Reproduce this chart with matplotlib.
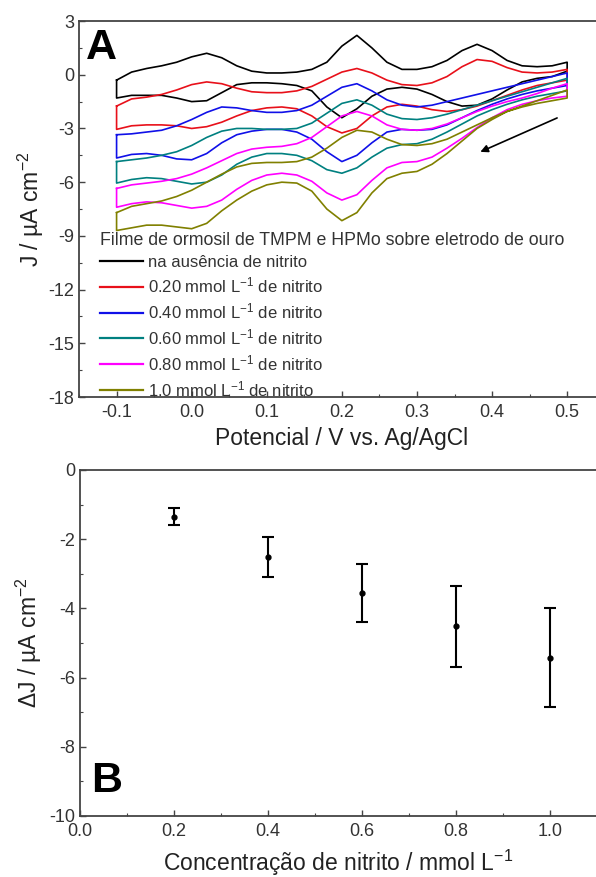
import matplotlib
matplotlib.use("Agg")  # no display available
import matplotlib.pyplot as plt
from matplotlib.lines import Line2D
from matplotlib.ticker import MultipleLocator

# ---------------------------------------------------------------------------
# Panel A: cyclic voltammograms
# ---------------------------------------------------------------------------
potential = [-0.10, -0.08, -0.06, -0.04, -0.02, 0.00, 0.02, 0.04, 0.06, 0.08,
             0.10, 0.12, 0.14, 0.16, 0.18, 0.20, 0.22, 0.24, 0.26, 0.28,
             0.30, 0.32, 0.34, 0.36, 0.38, 0.40, 0.42, 0.44, 0.46, 0.48, 0.50]

# anodic (forward) and cathodic (reverse) branches, same potential order
j_blank_fwd = [-0.3, 0.15, 0.35, 0.5, 0.7, 1.0, 1.2, 0.95, 0.5, 0.2,
               0.1, 0.1, 0.15, 0.3, 0.7, 1.6, 2.2, 1.5, 0.7, 0.3,
               0.3, 0.45, 0.8, 1.35, 1.7, 1.35, 0.8, 0.5, 0.45, 0.5, 0.7]
j_blank_rev = [-1.3, -1.15, -1.15, -1.15, -1.3, -1.5, -1.45, -1.0, -0.55, -0.45,
               -0.45, -0.5, -0.6, -0.9, -1.8, -2.4, -1.9, -1.2, -0.8, -0.7,
               -0.8, -1.1, -1.5, -1.75, -1.7, -1.35, -0.85, -0.4, -0.2, -0.1, 0.2]

j_020_fwd = [-1.75, -1.35, -1.25, -1.1, -0.85, -0.55, -0.4, -0.5, -0.75, -0.95,
             -1.0, -1.0, -0.9, -0.65, -0.25, 0.15, 0.35, 0.1, -0.3, -0.55,
             -0.6, -0.45, -0.1, 0.45, 0.85, 0.75, 0.4, 0.15, 0.1, 0.15, 0.3]
j_020_rev = [-3.05, -2.85, -2.8, -2.8, -2.85, -3.0, -2.9, -2.65, -2.3, -2.0,
             -1.85, -1.8, -1.9, -2.3, -2.9, -3.25, -3.0, -2.3, -1.8, -1.65,
             -1.75, -1.95, -2.05, -1.95, -1.75, -1.45, -1.15, -0.85, -0.6, -0.45, -0.3]

j_040_fwd = [-3.35, -3.3, -3.2, -3.1, -2.85, -2.5, -2.1, -1.8, -1.85, -2.0,
             -2.1, -2.1, -2.0, -1.7, -1.2, -0.7, -0.5, -0.9, -1.4, -1.7,
             -1.8, -1.7, -1.5, -1.3, -1.1, -0.9, -0.7, -0.5, -0.3, -0.1, 0.1]
j_040_rev = [-4.65, -4.45, -4.4, -4.5, -4.7, -4.75, -4.4, -3.8, -3.35, -3.15,
             -3.05, -3.05, -3.2, -3.6, -4.3, -4.85, -4.5, -3.8, -3.2, -3.05,
             -3.1, -3.05, -2.8, -2.4, -2.0, -1.65, -1.35, -1.1, -0.9, -0.75, -0.6]

j_060_fwd = [-4.85, -4.75, -4.65, -4.5, -4.3, -3.95, -3.5, -3.15, -3.0, -3.0,
             -3.05, -3.05, -3.0, -2.7, -2.15, -1.6, -1.4, -1.7, -2.2, -2.45,
             -2.5, -2.4, -2.2, -1.95, -1.7, -1.45, -1.2, -0.95, -0.7, -0.45, -0.2]
j_060_rev = [-6.05, -5.85, -5.75, -5.8, -5.95, -6.1, -6.0, -5.6, -5.0, -4.6,
             -4.4, -4.4, -4.5, -4.8, -5.3, -5.5, -5.2, -4.6, -4.1, -3.9,
             -3.85, -3.6, -3.2, -2.75, -2.3, -1.95, -1.65, -1.4, -1.2, -1.05, -0.9]

j_080_fwd = [-6.35, -6.15, -6.05, -5.95, -5.8, -5.55, -5.2, -4.8, -4.4, -4.15,
             -4.05, -4.0, -3.85, -3.5, -2.9, -2.3, -2.05, -2.3, -2.8, -3.05,
             -3.1, -3.0, -2.75, -2.4, -2.05, -1.75, -1.5, -1.3, -1.05, -0.75, -0.5]
j_080_rev = [-7.4, -7.2, -7.1, -7.15, -7.3, -7.45, -7.35, -7.0, -6.4, -5.9,
             -5.6, -5.5, -5.6, -5.95, -6.6, -7.0, -6.7, -5.9, -5.2, -4.9,
             -4.85, -4.6, -4.1, -3.55, -2.95, -2.4, -1.95, -1.65, -1.45, -1.3, -1.2]

j_100_fwd = [-7.7, -7.35, -7.2, -7.05, -6.8, -6.45, -6.0, -5.55, -5.15, -4.95,
             -4.9, -4.9, -4.85, -4.6, -4.1, -3.5, -3.1, -3.2, -3.6, -3.9,
             -3.95, -3.85, -3.6, -3.2, -2.8, -2.4, -2.05, -1.75, -1.45, -1.15, -0.85]
j_100_rev = [-8.7, -8.55, -8.4, -8.4, -8.5, -8.6, -8.3, -7.6, -7.0, -6.5,
             -6.15, -6.0, -6.05, -6.5, -7.5, -8.15, -7.7, -6.6, -5.8, -5.5,
             -5.4, -5.0, -4.4, -3.7, -3.0, -2.5, -2.05, -1.8, -1.6, -1.45, -1.3]

cv_fwd = [j_blank_fwd, j_020_fwd, j_040_fwd, j_060_fwd, j_080_fwd, j_100_fwd]
cv_rev = [j_blank_rev, j_020_rev, j_040_rev, j_060_rev, j_080_rev, j_100_rev]
cv_labels = ["na ausência de nitrito",
             "0.20 mmol L$^{-1}$ de nitrito",
             "0.40 mmol L$^{-1}$ de nitrito",
             "0.60 mmol L$^{-1}$ de nitrito",
             "0.80 mmol L$^{-1}$ de nitrito",
             "1.0 mmol L$^{-1}$ de nitrito"]
cv_colors = ["#000000", "#e8101a", "#1010e8", "#008080", "#ff00ff", "#808000"]
legend_title = "Filme de ormosil de TMPM e HPMo sobre eletrodo de ouro"

# ---------------------------------------------------------------------------
# Panel B: current change vs nitrite concentration
# ---------------------------------------------------------------------------
conc = [0.2, 0.4, 0.6, 0.8, 1.0]
delta_j = [-1.35, -2.52, -3.56, -4.52, -5.42]
delta_j_err = [0.24, 0.57, 0.84, 1.17, 1.43]

# ---------------------------------------------------------------------------
plt.rcParams["font.family"] = ["Liberation Sans", "DejaVu Sans"]
plt.rcParams["mathtext.fontset"] = "custom"
plt.rcParams["mathtext.rm"] = "Liberation Sans"
plt.rcParams["mathtext.it"] = "Liberation Sans:italic"
plt.rcParams["mathtext.bf"] = "Liberation Sans:bold"
plt.rcParams["axes.unicode_minus"] = False  # plain hyphen like the original

TICK_FS = 13
LABEL_FS = 16.5
SPINE_C = "#444444"

fig = plt.figure(figsize=(5.96, 8.77), dpi=100)
# both panels run a little past the right edge, as in the cropped original
ax_a = fig.add_axes([0.1326, 0.5473, 0.882, 0.4287])
ax_b = fig.add_axes([0.1342, 0.0696, 0.8674, 0.3945])


def style_axes(ax):
    for sp in ax.spines.values():
        sp.set_color(SPINE_C)
        sp.set_linewidth(1.3)
    ax.tick_params(which="both", direction="in", colors=SPINE_C,
                   labelcolor="#333333", labelsize=TICK_FS, top=False, right=False)
    ax.tick_params(which="major", length=4, width=1.0)
    ax.tick_params(which="minor", length=2, width=0.8)
    ax.tick_params(axis="x", pad=5)


# --- panel A ---
for fwd, rev, col in zip(cv_fwd, cv_rev, cv_colors):
    xs = potential + potential[::-1] + potential[:1]
    ys = fwd + rev[::-1] + fwd[:1]
    ax_a.plot(xs, ys, color=col, lw=1.2, solid_joinstyle="round")

ax_a.set_xlim(-0.15, 0.55)
ax_a.set_ylim(-18, 3)
ax_a.xaxis.set_major_locator(MultipleLocator(0.1))
ax_a.xaxis.set_minor_locator(MultipleLocator(0.05))
ax_a.yaxis.set_major_locator(MultipleLocator(3))
ax_a.yaxis.set_minor_locator(MultipleLocator(1.5))
ax_a.xaxis.set_major_formatter(plt.FuncFormatter(lambda v, p: f"{v:.1f}"))
style_axes(ax_a)
ax_a.set_xlabel("Potencial / V vs. Ag/AgCl", fontsize=LABEL_FS, color="#222222", labelpad=4)
ax_a.set_ylabel("J / µA cm$^{-2}$", fontsize=LABEL_FS, color="#222222", labelpad=2)

handles = [Line2D([], [], color=c, lw=1.6) for c in cv_colors]
leg = ax_a.legend(handles, cv_labels, title=legend_title, loc="upper left",
                  bbox_to_anchor=(0.04, 0.44), frameon=False, fontsize=12,
                  title_fontsize=12.8, alignment="left", handlelength=2.6,
                  handletextpad=0.25, labelspacing=0.36, borderaxespad=0,
                  borderpad=0)
for t in leg.get_texts():
    t.set_color("#333333")
leg.get_title().set_color("#333333")

ax_a.annotate("", xy=(0.381, -4.37), xytext=(0.49, -2.35),
              arrowprops=dict(arrowstyle="-|>", color="black", lw=1.2,
                              mutation_scale=11))
ax_a.text(0.013, 0.899, "A", transform=ax_a.transAxes, fontsize=31,
          fontweight="bold", ha="left", va="baseline")

# --- panel B ---
ax_b.errorbar(conc, delta_j, yerr=delta_j_err, fmt="o", color="black",
              ms=3.5, elinewidth=1.5, capsize=4.5, capthick=1.5)
ax_b.set_xlim(0, 1.1)
ax_b.set_ylim(-10, 0)
ax_b.xaxis.set_major_locator(MultipleLocator(0.2))
ax_b.xaxis.set_minor_locator(MultipleLocator(0.1))
ax_b.yaxis.set_major_locator(MultipleLocator(2))
ax_b.yaxis.set_minor_locator(MultipleLocator(1))
ax_b.xaxis.set_major_formatter(plt.FuncFormatter(lambda v, p: f"{v:.1f}"))
style_axes(ax_b)
ax_b.set_xlabel("Concentração de nitrito / mmol L$^{-1}$", fontsize=LABEL_FS,
                color="#222222", labelpad=6)
ax_b.set_ylabel("ΔJ / µA cm$^{-2}$", fontsize=LABEL_FS, color="#222222", labelpad=4)
ax_b.text(0.021, 0.069, "B", transform=ax_b.transAxes, fontsize=31,
          fontweight="bold", ha="left", va="baseline")

fig.savefig("out.png", dpi=100)
